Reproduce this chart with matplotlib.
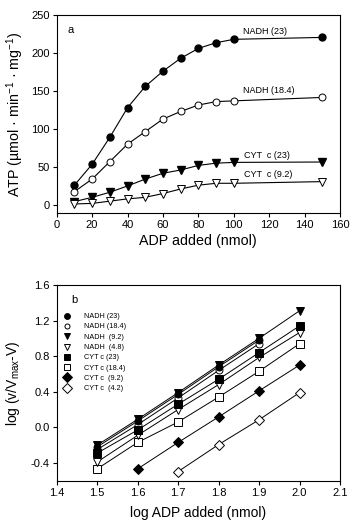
import matplotlib
matplotlib.use("Agg")
import matplotlib.pyplot as plt
from matplotlib.lines import Line2D

plt.rcParams['font.family'] = ['Liberation Sans', 'DejaVu Sans']
plt.rcParams['mathtext.default'] = 'regular'

# ---- Panel a data ----
adp = [10, 20, 30, 40, 50, 60, 70, 80, 90, 100, 150]
nadh23 = [26, 53.5, 89, 128, 156, 176, 193, 206, 213.5, 218, 220.5]
nadh184 = [17.5, 34, 57, 80, 96.5, 113, 123, 131.5, 136, 137, 141.5]
cyt23 = [4.4, 10, 16.7, 25, 34, 41.7, 46, 52, 55, 56, 56.5]
cyt92 = [1.3, 2, 5, 8, 10, 15, 21, 26, 28.5, 28.5, 30.7]
labels_a = ['NADH (23)', 'NADH (18.4)', 'CYT  c (23)', 'CYT  c (9.2)']
label_a_pos = [(105, 228), (105, 150), (106, 65), (106, 39.5)]

# ---- Panel b data ----
logadp = [1.5, 1.6, 1.7, 1.8, 1.9, 2.0]
b_labels = ['NADH (23)', 'NADH (18.4)', 'NADH  (9.2)', 'NADH  (4.8)',
            'CYT c (23)', 'CYT c (18.4)', 'CYT c  (9.2)', 'CYT c  (4.2)']
b_nadh23 = [-0.22, 0.07, 0.37, 0.68, 0.98, None]
b_nadh184 = [-0.25, 0.03, 0.33, 0.64, 0.94, None]
b_nadh92 = [-0.20, 0.09, 0.39, 0.70, 1.00, 1.31]
b_nadh48 = [-0.39, -0.09, 0.20, 0.48, 0.785, 1.065]
b_cyt23 = [-0.29, -0.03, 0.26, 0.54, 0.84, 1.14]
b_cyt184 = [-0.467, -0.17, 0.06, 0.34, 0.63, 0.94]
b_cyt92 = [None, -0.467, -0.17, 0.117, 0.41, 0.70]
b_cyt42 = [None, None, -0.497, -0.194, 0.085, 0.39]

W, H = 355, 530
fig = plt.figure(figsize=(W / 100, H / 100), dpi=100)

def frac(l, t, r, b):
    return [l / W, 1 - b / H, (r - l) / W, (b - t) / H]

ax1 = fig.add_axes(frac(56.7, 15, 340, 213.3))
ax2 = fig.add_axes(frac(56.7, 285, 340, 480.7))

for ax in (ax1, ax2):
    for s in ax.spines.values():
        s.set_linewidth(0.8)
    ax.tick_params(direction='out', length=3, width=0.8, labelsize=8, pad=2,
                   top=False, right=False)

lw = 0.8
ms = 5
ax1.plot(adp, nadh23, '-', color='black', lw=lw, marker='o', ms=ms, mfc='black', mec='black')
ax1.plot(adp, nadh184, '-', color='black', lw=lw, marker='o', ms=ms, mfc='white', mec='black', mew=0.7)
ax1.plot(adp, cyt23, '-', color='black', lw=lw, marker='v', ms=ms + 0.5, mfc='black', mec='black')
ax1.plot(adp, cyt92, '-', color='black', lw=lw, marker='v', ms=ms + 0.5, mfc='white', mec='black', mew=0.7)
for t, (x, y) in zip(labels_a, label_a_pos):
    ax1.text(x, y, t, fontsize=6.5, ha='left', va='center')
ax1.text(6, 230, 'a', fontsize=8, ha='left', va='center')
ax1.set_xlim(0, 160)
ax1.set_ylim(-11, 250)
ax1.set_xticks(range(0, 161, 20))
ax1.set_yticks(range(0, 251, 50))
ax1.set_xlabel('ADP added (nmol)', fontsize=10.3, labelpad=3)
ax1.set_ylabel('ATP (µmol · min$^{-1}$ · mg$^{-1}$)', fontsize=10.3, labelpad=4)

series_b = [b_nadh23, b_nadh184, b_nadh92, b_nadh48, b_cyt23, b_cyt184, b_cyt92, b_cyt42]
styles_b = [('o', 'black', 5), ('o', 'white', 5), ('v', 'black', 6), ('v', 'white', 6),
            ('s', 'black', 5.5), ('s', 'white', 5.5), ('D', 'black', 5), ('D', 'white', 5)]
order = [7, 6, 5, 3, 1, 4, 0, 2]
for i in order:
    ys = series_b[i]
    xs = [x for x, y in zip(logadp, ys) if y is not None]
    yv = [y for y in ys if y is not None]
    m, fc, s = styles_b[i]
    ax2.plot(xs, yv, '-', color='black', lw=0.7, marker=m, ms=s, mfc=fc, mec='black', mew=0.7)

handles = []
leg_sizes = [4.2, 3.6, 4.8, 4.5, 4.6, 4.6, 5.2, 5.2]
for (m, fc, s), ls in zip(styles_b, leg_sizes):
    handles.append(Line2D([], [], ls='none', marker=m, ms=ls, mfc=fc, mec='black', mew=0.7))
ax2.legend(handles, b_labels, loc='upper left', bbox_to_anchor=(0.0, 0.875),
           frameon=False, fontsize=5.2, handlelength=1.77, handletextpad=1.5,
           labelspacing=0.45, borderaxespad=0.3, borderpad=0.2)
ax2.text(1.437, 1.43, 'b', fontsize=8, ha='left', va='center')
ax2.set_xlim(1.4, 2.1)
ax2.set_ylim(-0.6, 1.6)
ax2.set_xticks([1.4, 1.5, 1.6, 1.7, 1.8, 1.9, 2.0, 2.1])
ax2.set_xticklabels(['1.4', '1.5', '1.6', '1.7', '1.8', '1.9', '2.0', '2.1'])
ax2.set_yticks([-0.4, 0.0, 0.4, 0.8, 1.2, 1.6])
ax2.set_yticklabels(['-0.4', '0.0', '0.4', '0.8', '1.2', '1.6'])
ax2.set_xlabel('log ADP added (nmol)', fontsize=10, labelpad=6)
ax2.set_ylabel('log (v/V$_{max}$-V)', fontsize=10, labelpad=6)

fig.savefig('out.png', dpi=100)
